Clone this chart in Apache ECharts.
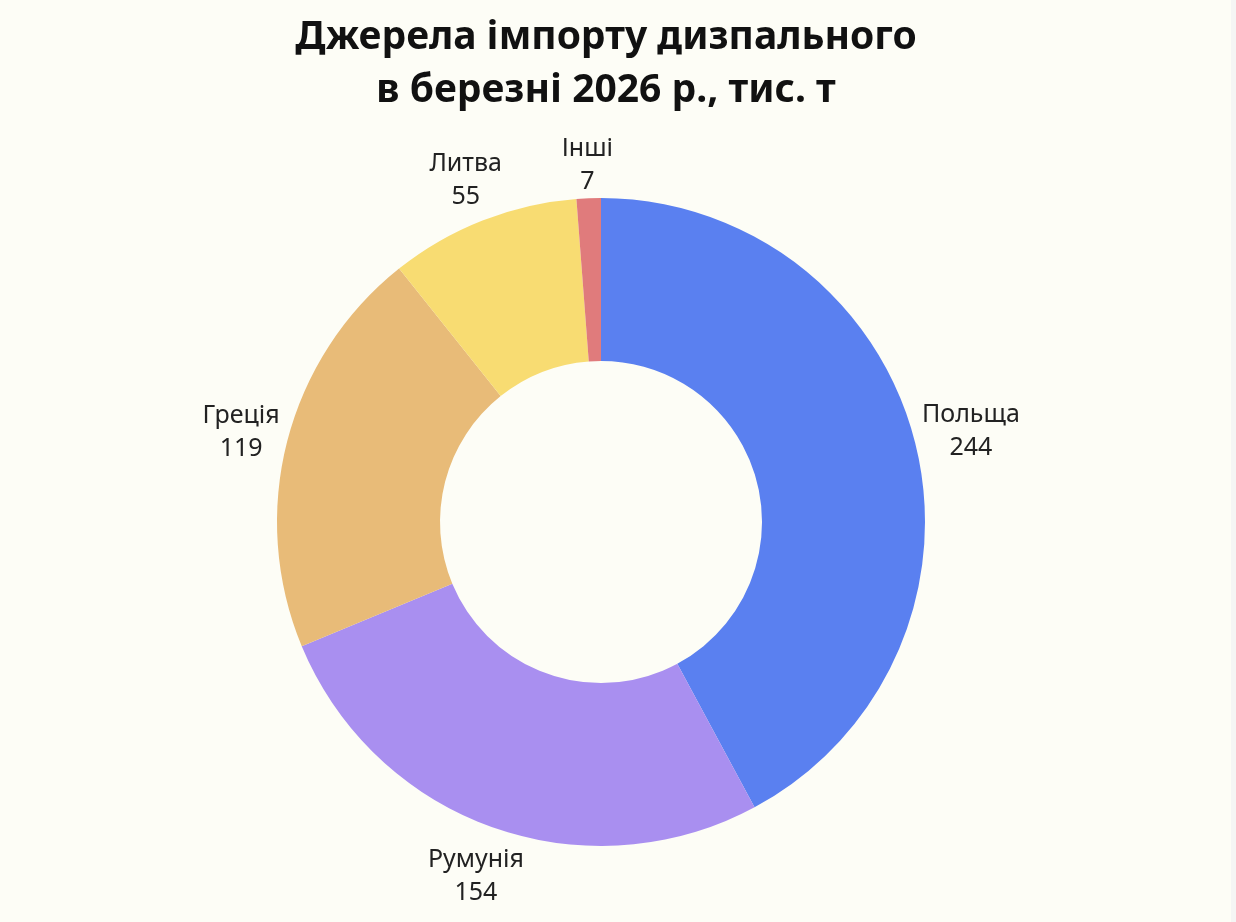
<!DOCTYPE html>
<html>
<head>
<meta charset="utf-8">
<script src="https://cdn.jsdelivr.net/npm/echarts@6/dist/echarts.min.js"></script>
<style>
  html, body { margin: 0; padding: 0; background: #f5f5f4; }
  #chart { width: 1231px; height: 922px; background: #fdfdf6; }
</style>
</head>
<body>
<div id="chart"></div>
<script>
(function () {
  'use strict';

  // джерела імпорту, тис. т
  const countries = ['Польща', 'Румунія', 'Греція', 'Литва', 'Інші'];
  const volumes = [244, 154, 119, 55, 7];
  const colors = ['#5a80f0', '#a98ff0', '#e8bb78', '#f8dc72', '#e07b7c'];

  const CX = 601, CY = 522;
  const R_OUT = 324, R_IN = 161;
  const LABEL_GAP = 326; // підпис торкається кола цього радіуса

  const sliceData = countries.map((name, i) => ({
    name, value: volumes[i], itemStyle: { color: colors[i] }
  }));

  // зсуваємо підпис назовні вздовж напрямку сектора, щоб край рамки торкався кола
  function pushOut(params) {
    const r = params.labelRect;
    const mx = r.x + r.width / 2, my = r.y + r.height / 2;
    let dx = mx - CX, dy = my - CY;
    const len = Math.sqrt(dx * dx + dy * dy) || 1;
    dx /= len; dy /= len;
    const reach = Math.abs(dx) * r.width / 2 + Math.abs(dy) * r.height / 2;
    const d = LABEL_GAP + reach;
    return { x: CX + dx * d, y: CY + dy * d + 3 };
  }

  const chart = echarts.init(document.getElementById('chart'));
  chart.setOption({
    animation: false,
    backgroundColor: '#fdfdf6',
    title: {
      text: 'Джерела імпорту дизпального\nв березні 2026 р., тис. т',
      left: CX,
      top: 6,
      textAlign: 'center',
      textStyle: {
        fontFamily: 'Noto Sans',
        fontWeight: 'bold',
        fontSize: 39,
        lineHeight: 53,
        color: '#111'
      }
    },
    series: [
      {
        type: 'pie',
        center: [CX, CY],
        radius: [R_IN, R_OUT],
        startAngle: 90,
        clockwise: true,
        silent: true,
        label: { show: false },
        labelLine: { show: false },
        data: sliceData
      },
      {
        // лише підписи: прозоре кільце за межами бублика
        type: 'pie',
        center: [CX, CY],
        radius: [336, 400],
        startAngle: 90,
        clockwise: true,
        silent: true,
        itemStyle: { color: 'rgba(0,0,0,0)' },
        label: {
          show: true,
          position: 'inside',
          formatter: '{b}\n{c}',
          fontFamily: 'Noto Sans',
          fontSize: 25,
          lineHeight: 33,
          color: '#222'
        },
        labelLine: { show: false },
        labelLayout: pushOut,
        data: countries.map((name, i) => ({ name, value: volumes[i] }))
      }
    ]
  });
})();
</script>
</body>
</html>
